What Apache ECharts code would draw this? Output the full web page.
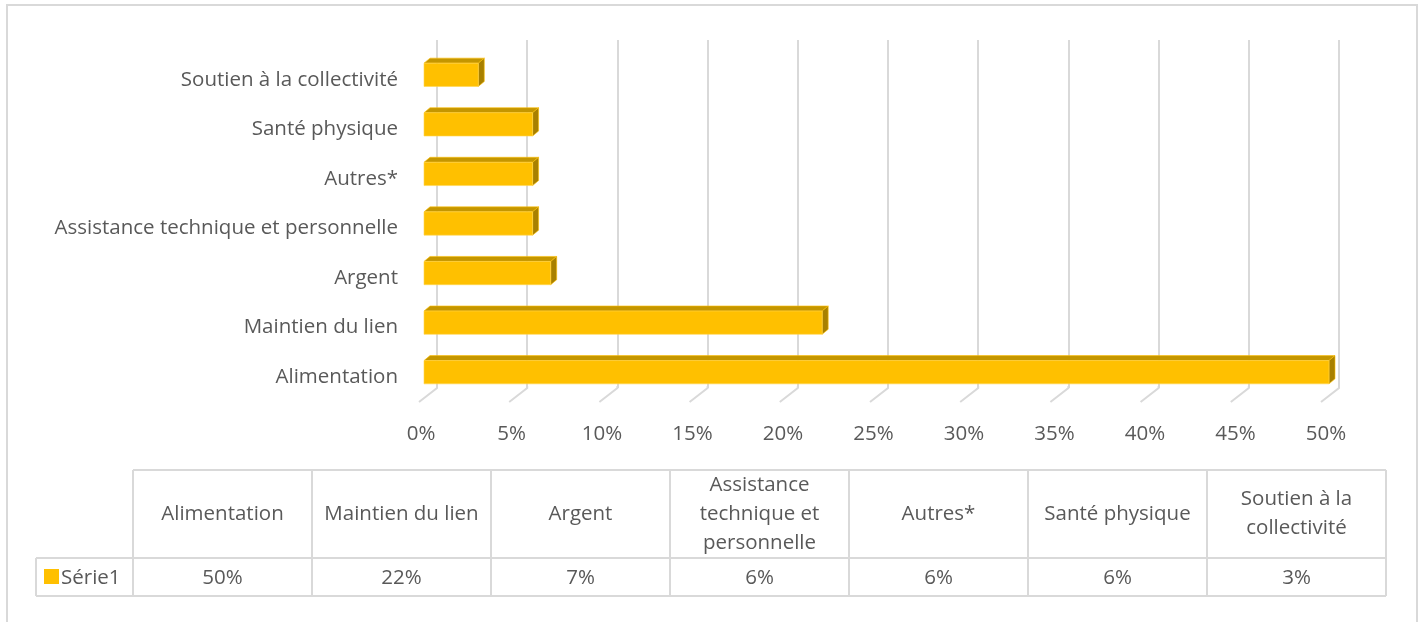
<!DOCTYPE html>
<html>
<head>
<meta charset="utf-8">
<title>Répartition des besoins</title>
<script src="https://cdn.jsdelivr.net/npm/echarts@6/dist/echarts.min.js"></script>
<style>
  html, body { margin: 0; padding: 0; background: #fff; }
  #chart { width: 1421px; height: 622px; }
</style>
</head>
<body>
<div id="chart"></div>
<script>
// Categories, bottom to top on the value axis (same order as the data table columns)
const categories = [
  'Alimentation',
  'Maintien du lien',
  'Argent',
  'Assistance technique et personnelle',
  'Autres*',
  'Santé physique',
  'Soutien à la collectivité'
];
// Share of each need (fraction)
const values = [0.50, 0.22, 0.07, 0.06, 0.06, 0.06, 0.03];
// Header texts of the data table, wrapped as in the cells
const tableHeaders = [
  'Alimentation',
  'Maintien du lien',
  'Argent',
  'Assistance\ntechnique et\npersonnelle',
  'Autres*',
  'Santé physique',
  'Soutien à la\ncollectivité'
];
const seriesName = 'Série1';
// Value-axis ticks (fractions)
const ticks = [0, 0.05, 0.10, 0.15, 0.20, 0.25, 0.30, 0.35, 0.40, 0.45, 0.50];

const FONT = '"Open Sans", Lato, sans-serif';
const FS = 20.5;
const TEXT = '#595959';
const GRID = '#D9D9D9';
const GOLD = '#FFC000';
const GOLD_TOP = '#C49600';
const GOLD_SIDE = '#A88000';
const DX = 6, DY = 5; // bar depth

const pct = v => Math.round(v * 100) + '%';

const chart = echarts.init(document.getElementById('chart'), null, { renderer: 'canvas' });

// Data table below the plot
const colX0 = 133, colW = 179, rowTop = 470, rowMid = 558, rowBot = 596, legendX0 = 36;
const tableEls = [];
const lineStyle = { stroke: GRID, lineWidth: 2 };
function hline(x1, x2, y) {
  tableEls.push({ type: 'line', shape: { x1, y1: y, x2, y2: y }, style: lineStyle, silent: true });
}
function vline(x, y1, y2) {
  tableEls.push({ type: 'line', shape: { x1: x, y1, x2: x, y2 }, style: lineStyle, silent: true });
}
const colXEnd = colX0 + colW * categories.length;
hline(colX0, colXEnd, rowTop);
hline(legendX0, colXEnd, rowMid);
hline(legendX0, colXEnd, rowBot);
vline(legendX0, rowMid, rowBot);
for (let i = 0; i <= categories.length; i++) {
  vline(colX0 + colW * i, rowTop, rowBot);
}
tableHeaders.forEach((h, i) => {
  tableEls.push({
    type: 'text', silent: true,
    style: {
      x: colX0 + colW * (i + 0.5), y: (rowTop + rowMid) / 2,
      text: h, align: 'center', verticalAlign: 'middle',
      font: FS + 'px ' + FONT, fill: TEXT, lineHeight: 29
    }
  });
});
values.forEach((v, i) => {
  tableEls.push({
    type: 'text', silent: true,
    style: {
      x: colX0 + colW * (i + 0.5), y: (rowMid + rowBot) / 2 + 1,
      text: pct(v), align: 'center', verticalAlign: 'middle',
      font: FS + 'px ' + FONT, fill: TEXT
    }
  });
});
// legend key of the table row
tableEls.push({ type: 'rect', silent: true, shape: { x: 44, y: 569, width: 15, height: 15 }, style: { fill: GOLD } });
tableEls.push({
  type: 'text', silent: true,
  style: { x: 61, y: (rowMid + rowBot) / 2 + 1, text: seriesName, align: 'left', verticalAlign: 'middle', font: FS + 'px ' + FONT, fill: TEXT }
});
// chart area frame
tableEls.push({ type: 'rect', silent: true, shape: { x: 7, y: 5, width: 1410, height: 640 }, style: { fill: 'none', stroke: GRID, lineWidth: 2 } });

const option = {
  animation: false,
  backgroundColor: '#fff',
  grid: [
    // back wall (gridlines)
    { left: 437, width: 902, top: 40, height: 348 },
    // front plane (bars and labels)
    { left: 424, width: 905, top: 50, height: 347 }
  ],
  xAxis: [
    {
      gridIndex: 0, type: 'value', min: 0, max: 0.5, interval: 0.05,
      axisLine: { show: false }, axisTick: { show: false }, axisLabel: { show: false },
      splitLine: { show: true, lineStyle: { color: GRID, width: 2 } }
    },
    {
      gridIndex: 1, type: 'value', min: 0, max: 0.5, interval: 0.05,
      axisLine: { show: false }, axisTick: { show: false },
      splitLine: { show: false },
      axisLabel: {
        margin: 27, color: TEXT, fontSize: FS, fontFamily: FONT,
        padding: [0, 6, 0, 0],
        formatter: v => pct(v)
      }
    }
  ],
  yAxis: [
    {
      gridIndex: 0, type: 'category', data: categories,
      axisLine: { show: false }, axisTick: { show: false }, axisLabel: { show: false }, splitLine: { show: false }
    },
    {
      gridIndex: 1, type: 'category', data: categories,
      axisLine: { show: false }, axisTick: { show: false }, splitLine: { show: false },
      axisLabel: {
        margin: 26,
        formatter: v => '{c|' + v + '}',
        rich: { c: { color: TEXT, fontSize: FS, fontFamily: FONT, padding: [10, 0, 0, 0] } }
      }
    }
  ],
  series: [
    {
      // floor edges running from the back wall to the front
      type: 'custom', xAxisIndex: 0, yAxisIndex: 0, silent: true, z: 1,
      data: ticks.map(t => [t, 0]),
      renderItem: (params, api) => {
        const cs = params.coordSys;
        const x = api.coord([api.value(0), 0])[0];
        const yb = cs.y + cs.height;
        return {
          type: 'polyline',
          shape: { points: [[x, cs.y + cs.height - 2], [x, yb], [x - 18, yb + 14]] },
          style: { stroke: GRID, lineWidth: 2, fill: null }
        };
      }
    },
    {
      name: seriesName,
      type: 'custom', xAxisIndex: 1, yAxisIndex: 1, z: 5,
      data: values.map((v, i) => [v, i]),
      encode: { x: 0, y: 1 },
      renderItem: (params, api) => {
        const p0 = api.coord([0, api.value(1)]);
        const p1 = api.coord([api.value(0), api.value(1)]);
        const h = api.size([0, 1])[1] * 0.47;
        const x0 = p0[0], x1 = p1[0];
        const y0 = p0[1] - h / 2, y1 = p0[1] + h / 2;
        return {
          type: 'group',
          children: [
            { type: 'polygon', shape: { points: [[x0, y0], [x1, y0], [x1 + DX, y0 - DY], [x0 + DX, y0 - DY]] },
              style: { fill: GOLD_TOP, stroke: GOLD, lineWidth: 0.6 } },
            { type: 'polygon', shape: { points: [[x1, y0], [x1 + DX, y0 - DY], [x1 + DX, y1 - DY], [x1, y1]] },
              style: { fill: GOLD_SIDE, stroke: GOLD, lineWidth: 0.6 } },
            { type: 'rect', shape: { x: x0, y: y0, width: x1 - x0, height: y1 - y0 },
              style: { fill: GOLD, stroke: '#FFD54F', lineWidth: 0.6 } }
          ]
        };
      }
    }
  ],
  graphic: { elements: tableEls }
};

chart.setOption(option);
</script>
</body>
</html>
